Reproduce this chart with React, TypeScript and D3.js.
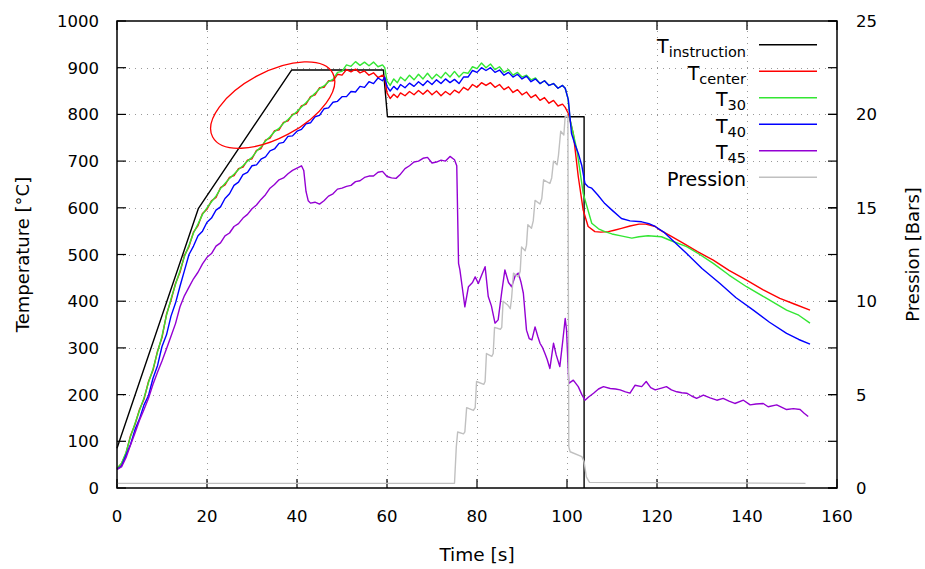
import React from "react";
import * as d3 from "d3";

// ---------- data ----------
const xTicks = [0, 20, 40, 60, 80, 100, 120, 140, 160];
const yTicks = [0, 100, 200, 300, 400, 500, 600, 700, 800, 900, 1000];
const y2Ticks = [0, 5, 10, 15, 20, 25];

const tInstruction: [number, number][] = [
  [0, 85], [18.1, 599], [38.8, 895], [59.2, 895], [60.1, 795], [103.8, 795], [103.8, 0],
];

const tCenter: [number, number][] = [
  [0, 42], [1, 52], [2, 74], [3, 112], [4, 136], [5, 168], [6, 190], [7, 228], [8, 252], [9, 293],
  [10, 322], [11, 372], [12, 402], [13, 438], [14, 462], [15, 498], [16, 517], [17, 548], [18, 562], [19, 588],
  [20, 597], [21, 615], [22, 622], [23, 643], [24, 649], [25, 665], [26, 669], [27, 684], [28, 687], [29, 702],
  [30, 705], [31, 723], [32, 727], [33, 745], [34, 749], [35, 765], [36, 767], [37, 783], [38, 786], [39, 800],
  [40, 803], [41, 818], [42, 822], [43, 838], [44, 842], [45, 857], [46, 858], [47, 872], [48, 872], [49, 886],
  [50, 884], [51, 896], [52, 891], [53, 897], [54, 889], [55, 893], [56, 884], [57, 889], [58, 879], [59, 884],
  [59.5, 878], [60, 846], [60.7, 834], [61.5, 843], [62.3, 836], [63, 846], [64, 840], [65, 849], [66, 842],
  [67, 851], [68, 843], [69, 852], [70, 842], [71, 850], [72, 840], [73, 849], [74, 842], [75, 852], [76, 846],
  [77, 858], [78, 852], [79, 864], [80, 858], [81, 868], [82, 862], [83, 868], [84, 858], [85, 864], [86, 853],
  [87, 859], [88, 847], [89, 853], [90, 842], [91, 848], [92, 836], [93, 842], [94, 830], [95, 836], [96, 824],
  [97, 830], [98, 818], [99, 822], [99.6, 815], [100.3, 802], [101.4, 759], [102.5, 667], [103.6, 595],
  [104.7, 560], [106.2, 549], [107.5, 548], [109.2, 549], [110.5, 552], [112.1, 556], [114, 561], [116, 565],
  [117.5, 565], [119.6, 560], [120.7, 552], [123, 540], [125.9, 524], [129, 506], [132.5, 488], [136, 466],
  [139.9, 445], [143.5, 425], [147.3, 406], [150.5, 394], [154, 381],
];

const t30: [number, number][] = [
  [0, 42], [1, 53], [2, 76], [3, 110], [4, 138], [5, 166], [6, 193], [7, 226], [8, 255], [9, 291],
  [10, 325], [11, 370], [12, 405], [13, 436], [14, 465], [15, 496], [16, 520], [17, 546], [18, 565], [19, 586],
  [20, 600], [21, 613], [22, 625], [23, 641], [24, 652], [25, 663], [26, 672], [27, 682], [28, 690], [29, 700],
  [30, 708], [31, 721], [32, 730], [33, 743], [34, 752], [35, 763], [36, 770], [37, 781], [38, 789], [39, 798],
  [40, 806], [41, 816], [42, 825], [43, 836], [44, 845], [45, 855], [46, 861], [47, 870], [48, 875], [49, 890],
  [50, 892], [51, 906], [52, 903], [53, 913], [54, 905], [55, 912], [56, 904], [57, 912], [58, 902], [59, 906],
  [59.5, 900], [60, 872], [60.7, 862], [61.5, 876], [62.3, 868], [63, 880], [64, 872], [65, 884], [66, 874],
  [67, 886], [68, 876], [69, 888], [70, 876], [71, 886], [72, 878], [73, 890], [74, 880], [75, 892], [76, 880],
  [77, 890], [78, 888], [79, 902], [80, 898], [81, 910], [82, 900], [83, 908], [84, 896], [85, 902], [86, 890],
  [87, 896], [88, 884], [89, 890], [90, 880], [91, 884], [92, 874], [93, 878], [94, 866], [95, 872], [96, 862],
  [97, 866], [98, 856], [99, 862], [99.6, 856], [100.2, 835], [100.7, 788], [102.2, 724], [103.6, 631],
  [105.5, 567], [107, 555], [108.4, 549], [110, 544], [112, 540], [114.4, 535], [116, 538], [118, 540],
  [121, 538], [123, 530], [126.6, 517], [129.5, 500], [132.5, 481], [136, 456], [139.9, 431], [144, 408],
  [148.8, 381], [151.5, 370], [154, 353],
];

const t40: [number, number][] = [
  [0, 40], [1, 47], [2, 70], [3, 93], [4, 125], [5, 148], [6, 178], [7, 198], [8, 235], [9, 262],
  [10, 303], [11, 328], [12, 368], [13, 396], [14, 432], [15, 466], [16, 500], [17, 518], [18, 540], [19, 550],
  [20, 569], [21, 578], [22, 595], [23, 602], [24, 620], [25, 630], [26, 648], [27, 655], [28, 671], [29, 676],
  [30, 690], [31, 692], [32, 704], [33, 709], [34, 722], [35, 726], [36, 738], [37, 740], [38, 753], [39, 754],
  [40, 764], [41, 768], [42, 780], [43, 782], [44, 795], [45, 798], [46, 812], [47, 814], [48, 826], [49, 828],
  [50, 838], [51, 838], [52, 849], [53, 848], [54, 860], [55, 858], [56, 870], [57, 866], [58, 878], [59, 872],
  [59.5, 880], [60, 860], [60.7, 850], [61.5, 860], [62.3, 853], [63, 864], [64, 857], [65, 867], [66, 860],
  [67, 870], [68, 862], [69, 872], [70, 864], [71, 874], [72, 866], [73, 876], [74, 868], [75, 875], [76, 866],
  [77, 880], [78, 880], [79, 894], [80, 890], [81, 900], [82, 894], [83, 900], [84, 890], [85, 895], [86, 884],
  [87, 890], [88, 880], [89, 886], [90, 876], [91, 882], [92, 870], [93, 876], [94, 866], [95, 872], [96, 862],
  [97, 866], [98, 856], [99, 862], [99.6, 856], [100.3, 831], [101, 759], [101.8, 735], [102.5, 717],
  [103.3, 690], [104, 652], [104.7, 645], [105.5, 642], [106.8, 628], [108.4, 609], [110, 595], [112.1, 577],
  [114, 572], [116.6, 570], [118.2, 566], [119.6, 560], [121.5, 548], [123.5, 530], [126.6, 502], [130, 470],
  [134, 438], [137.5, 408], [141.4, 381], [145, 355], [148.8, 331], [151.5, 318], [154, 308],
];

const t45: [number, number][] = [
  [0, 40], [1, 45], [2, 65], [3, 92], [4, 118], [5, 145], [6, 168], [7, 192], [8, 222], [9, 248],
  [10, 272], [11, 298], [12, 325], [13, 352], [14, 388], [15, 412], [16, 430], [17, 448], [18, 462], [19, 480],
  [20, 494], [21, 502], [22, 518], [23, 525], [24, 540], [25, 546], [26, 560], [27, 566], [28, 578], [29, 586],
  [30, 598], [31, 606], [32, 618], [33, 628], [34, 642], [35, 650], [36, 660], [37, 664], [38, 673], [39, 680],
  [40, 685], [41, 690], [41.5, 680], [42, 635], [42.5, 615], [43, 610], [44, 612], [45, 608], [46, 615],
  [47, 625], [48, 630], [49, 640], [50, 642], [51, 646], [52, 648], [53, 656], [54, 658], [55, 665], [56, 668],
  [57, 668], [58, 676], [59, 678], [60, 667], [61, 664], [62, 663], [63, 672], [64, 684], [65, 690], [66, 698],
  [67, 700], [68, 706], [69, 708], [70, 696], [71, 698], [72, 702], [73, 700], [74, 710], [75, 703],
  [75.5, 690], [75.9, 481], [76.2, 467], [77, 410], [77.3, 388], [78.1, 431], [79, 440], [79.6, 452],
  [80.3, 438], [81, 455], [81.8, 474], [82.5, 410], [83.2, 390], [84, 353], [84.7, 360], [85.5, 420],
  [86.2, 467], [87, 440], [87.7, 431], [88.5, 455], [89.2, 460], [89.8, 440], [90.3, 417], [91, 338],
  [91.6, 320], [92.2, 317], [92.9, 345], [93.5, 325], [94, 310], [94.6, 300], [95.1, 288], [95.6, 275],
  [96.2, 256], [96.7, 290], [97, 310], [97.6, 285], [98.4, 260], [99, 310], [99.6, 363], [99.9, 338],
  [100.4, 224], [101.4, 231], [102.5, 217], [103.3, 200], [104, 188], [104.8, 195], [105.9, 203], [107, 212],
  [108.1, 217], [109.6, 213], [110.8, 212], [111.8, 210], [113, 206], [114, 203], [115.1, 220], [116.6, 217],
  [117.6, 228], [118.6, 215], [119.6, 210], [121, 214], [122.1, 217], [123.2, 210], [124.4, 206], [125.5, 204],
  [126.6, 203], [127.7, 197], [128.8, 192], [130.3, 199], [131.8, 193], [133.3, 188], [134.7, 192], [136, 186],
  [137.3, 181], [139.2, 188], [140.7, 178], [142, 180], [143.6, 181], [144.7, 174], [146.6, 178], [148.8, 168],
  [150.3, 170], [151.8, 168], [152.7, 160], [153.6, 153],
];

const pression: [number, number][] = [
  [0, 0.25], [75.0, 0.25], [75.4, 2.2], [75.7, 3.0], [77.0, 2.9], [77.3, 3.0], [77.7, 4.3], [79.2, 4.15],
  [79.6, 4.3], [79.9, 5.7], [81.5, 5.55], [81.8, 5.7], [82.1, 7.2], [83.3, 7.05], [83.6, 7.2], [83.9, 8.6],
  [85.2, 8.5], [85.5, 8.6], [85.8, 10.0], [86.8, 9.8], [87.4, 9.6], [87.7, 10.2], [88.1, 11.5], [89.2, 11.3],
  [89.6, 11.6], [89.9, 12.9], [90.7, 12.7], [91.0, 13.0], [91.3, 14.1], [92.1, 13.9], [92.5, 14.3],
  [92.9, 15.4], [94.0, 15.2], [94.4, 15.5], [94.8, 16.5], [96.2, 16.3], [96.6, 16.6], [97.0, 17.5],
  [97.8, 17.3], [98.1, 17.8], [98.6, 19.1], [99.3, 18.9], [99.6, 19.9], [100.2, 19.9], [100.4, 2.2],
  [100.7, 1.94], [103.3, 1.68], [103.8, 1.4], [104.3, 0.6], [105, 0.3], [153, 0.25],
];

// annotation ellipse (data coords: centre time, centre temperature)
const ellipseCentre: [number, number] = [34.6, 820];

const series = [
  { name: "T", sub: "instruction", data: tInstruction, color: "#000000", axis: 1 },
  { name: "T", sub: "center", data: tCenter, color: "#ff0000", axis: 1 },
  { name: "T", sub: "30", data: t30, color: "#33e633", axis: 1 },
  { name: "T", sub: "40", data: t40, color: "#0000ff", axis: 1 },
  { name: "T", sub: "45", data: t45, color: "#9400d3", axis: 1 },
  { name: "Pression", sub: "", data: pression, color: "#c0c0c0", axis: 2 },
];

const W = 925;
const H = 569;
const L = 117, R = 837, T = 21, B = 488;
const FONT = "'DejaVu Sans', Verdana, sans-serif";

export default function App() {
  const x = d3.scaleLinear().domain([0, 160]).range([L, R]);
  const y = d3.scaleLinear().domain([0, 1000]).range([B, T]);
  const y2 = d3.scaleLinear().domain([0, 25]).range([B, T]);

  const line1 = d3.line<[number, number]>().x((d) => x(d[0])).y((d) => y(d[1]));
  const line2 = d3.line<[number, number]>().x((d) => x(d[0])).y((d) => y2(d[1]));

  const tick = 9;
  const ex = x(ellipseCentre[0]);
  const ey = y(ellipseCentre[1]);

  return (
    <svg width={W} height={H} style={{ position: "absolute", left: 0, top: 0, background: "#fff" }} fontFamily={FONT}>
      <rect x={0} y={0} width={W} height={H} fill="#fff" />
      {/* grid */}
      <g stroke="#999" strokeWidth={1} strokeDasharray="1,5">
        {xTicks.slice(1, -1).map((t) => (
          <line key={"gx" + t} x1={x(t) + 0.5} x2={x(t) + 0.5} y1={B} y2={T} />
        ))}
        {yTicks.slice(1, -1).map((t) => (
          <line key={"gy" + t} x1={L} x2={R} y1={Math.round(y(t)) + 0.5} y2={Math.round(y(t)) + 0.5} />
        ))}
      </g>
      {/* ticks */}
      <g stroke="#000" strokeWidth={1.2}>
        {xTicks.map((t) => (
          <g key={"tx" + t}>
            <line x1={x(t)} x2={x(t)} y1={B} y2={B - tick} />
            <line x1={x(t)} x2={x(t)} y1={T} y2={T + tick} />
          </g>
        ))}
        {yTicks.map((t) => (
          <g key={"ty" + t}>
            <line x1={L} x2={L + tick} y1={y(t)} y2={y(t)} />
            <line x1={R} x2={R - tick} y1={y(t)} y2={y(t)} />
          </g>
        ))}
        {y2Ticks.map((t) => (
          <line key={"ty2" + t} x1={R} x2={R - tick} y1={y2(t)} y2={y2(t)} />
        ))}
      </g>
      {/* series */}
      <g fill="none" strokeWidth={1.4} strokeLinejoin="round">
        {series.map((s) => (
          <path key={s.sub + s.name} d={(s.axis === 1 ? line1 : line2)(s.data) || ""} stroke={s.color} />
        ))}
      </g>
      {/* annotation */}
      <ellipse cx={ex} cy={ey} rx={68} ry={33} transform={`rotate(-28 ${ex} ${ey})`} fill="none" stroke="#ff0000" strokeWidth={1.3} />
      {/* frame */}
      <rect x={L} y={T} width={R - L} height={B - T} fill="none" stroke="#000" strokeWidth={1.5} />
      {/* tick labels */}
      <g fontSize={16.5} fill="#000">
        {xTicks.map((t) => (
          <text key={"lx" + t} x={x(t)} y={B + 34} textAnchor="middle">{t}</text>
        ))}
        {yTicks.map((t) => (
          <text key={"ly" + t} x={L - 18} y={y(t) + 6} textAnchor="end">{t}</text>
        ))}
        {y2Ticks.map((t) => (
          <text key={"ly2" + t} x={R + 19} y={y2(t) + 6} textAnchor="start">{t}</text>
        ))}
      </g>
      {/* axis titles */}
      <text x={(L + R) / 2} y={561} fontSize={18.5} textAnchor="middle">Time [s]</text>
      <text transform={`translate(29 ${(T + B) / 2}) rotate(-90)`} fontSize={18} textAnchor="middle">Temperature [°C]</text>
      <text transform={`translate(919 ${(T + B) / 2}) rotate(-90)`} fontSize={18} textAnchor="middle">Pression [Bars]</text>
      {/* legend */}
      <g>
        {series.map((s, i) => {
          const ly = 44.7 + i * 26.5;
          return (
            <g key={"lg" + i}>
              <text x={746} y={ly + 8.5} fontSize={19} textAnchor="end">
                {s.name}
                {s.sub ? <tspan fontSize={14.5} dy={4}>{s.sub}</tspan> : null}
              </text>
              <line x1={759} x2={817} y1={ly} y2={ly} stroke={s.color} strokeWidth={1.4} />
            </g>
          );
        })}
      </g>
    </svg>
  );
}
